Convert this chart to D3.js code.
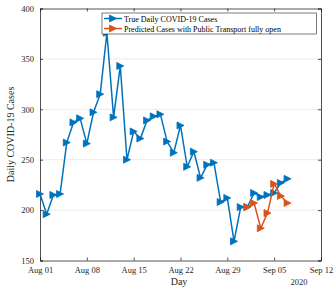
<!DOCTYPE html>
<html><head><meta charset="utf-8">
<script src="https://cdn.jsdelivr.net/npm/d3@7"></script>
<style>body{margin:0;background:#fff}svg{display:block}text{font-family:"Liberation Serif","Times New Roman",serif}</style>
</head><body><svg id="c" width="334" height="289"></svg>
<script>
const trueDates = ["2020-08-01","2020-08-02","2020-08-03","2020-08-04","2020-08-05","2020-08-06","2020-08-07","2020-08-08","2020-08-09","2020-08-10","2020-08-11","2020-08-12","2020-08-13","2020-08-14","2020-08-15","2020-08-16","2020-08-17","2020-08-18","2020-08-19","2020-08-20","2020-08-21","2020-08-22","2020-08-23","2020-08-24","2020-08-25","2020-08-26","2020-08-27","2020-08-28","2020-08-29","2020-08-30","2020-08-31","2020-09-01","2020-09-02","2020-09-03","2020-09-04","2020-09-05","2020-09-06","2020-09-07"];
const trueCases = [216,196,215,216,267,287,291,266,297,315,376,292,343,250,278,271,289,293,295,268,257,284,243,258,232,245,247,208,212,169,203,203,217,213,215,217,227,231];
const predDates = ["2020-09-01","2020-09-02","2020-09-03","2020-09-04","2020-09-05","2020-09-06","2020-09-07"];
const predCases = [203,207,182,197,226,214,207];
const xTickDates = ["2020-08-01","2020-08-08","2020-08-15","2020-08-22","2020-08-29","2020-09-05","2020-09-12"];
const xTickLabels = ["Aug 01","Aug 08","Aug 15","Aug 22","Aug 29","Sep 05","Sep 12"];
const yTicks = [150,200,250,300,350,400];
const legendLabels = ["True Daily COVID-19 Cases","Predicted Cases with Public Transport fully open"];
const colors = ["#0072BD","#D95319"];

const parse = d3.utcParse("%Y-%m-%d");
const svg = d3.select("#c");
const L=40,R=321,T=8.5,B=260.5;
const x = d3.scaleUtc().domain([parse("2020-08-01"),parse("2020-09-12")]).range([L,R]);
const y = d3.scaleLinear().domain([150,400]).range([B,T]);
const axisCol="#262626";

// grid
svg.append("g").selectAll("line").data(yTicks.slice(1,-1)).join("line")
 .attr("x1",L).attr("x2",R).attr("y1",d=>y(d)).attr("y2",d=>y(d))
 .attr("stroke","#ebebeb").attr("stroke-width",1);

const xt = xTickDates.map(parse);
const xAxis = d3.axisBottom(x).tickValues(xt).tickFormat(d=>xTickLabels[xt.findIndex(t=>+t===+d)]).tickSize(-3).tickPadding(6);
const gx = svg.append("g").attr("transform",`translate(0,${B})`).call(xAxis);
const gxt = svg.append("g").attr("transform",`translate(0,${T})`).call(d3.axisTop(x).tickValues(xt).tickSize(-3).tickFormat(""));
const yAxis = d3.axisLeft(y).tickValues(yTicks).tickSize(-3).tickPadding(6);
const gy = svg.append("g").attr("transform",`translate(${L},0)`).call(yAxis);
const gyr = svg.append("g").attr("transform",`translate(${R},0)`).call(d3.axisRight(y).tickValues(yTicks).tickSize(-3).tickFormat(""));
[gx,gxt,gy,gyr].forEach(g=>{
  g.select(".domain").attr("stroke",axisCol).attr("stroke-width",0.8);
  g.selectAll(".tick line").attr("stroke",axisCol).attr("stroke-width",0.8);
  g.selectAll(".tick text").attr("fill",axisCol).style("font-size","8.5px").style("font-family","Liberation Serif");
});

svg.append("text").attr("x",179).attr("y",285).attr("text-anchor","middle").attr("fill",axisCol).style("font-size","10px").text("Day");
svg.append("text").attr("x",299).attr("y",285).attr("text-anchor","middle").attr("fill",axisCol).style("font-size","8.5px").text("2020");
svg.append("text").attr("transform",`translate(14,${(T+B)/2}) rotate(-90)`).attr("text-anchor","middle").attr("fill",axisCol).style("font-size","10px").text("Daily COVID-19 Cases");

const line = d3.line().x(d=>x(d[0])).y(d=>y(d[1]));
const tri = "M-3.5,-3.5L3.5,0L-3.5,3.5Z";
function series(dates,vals,col){
  const data = dates.map((d,i)=>[parse(d),vals[i]]);
  svg.append("path").datum(data).attr("d",line).attr("fill","none").attr("stroke",col).attr("stroke-width",1.5);
  svg.append("g").selectAll("path").data(data).join("path")
    .attr("transform",d=>`translate(${x(d[0])},${y(d[1])})`).attr("d",tri)
    .attr("fill",col).attr("stroke",col).attr("stroke-width",0.8);
}
series(trueDates,trueCases,colors[0]);
series(predDates,predCases,colors[1]);

// legend
const lg = svg.append("g");
lg.append("rect").attr("x",102).attr("y",13).attr("width",214.5).attr("height",21).attr("fill","#fff").attr("stroke",axisCol).attr("stroke-width",0.6);
legendLabels.forEach((t,i)=>{
  const yy = 18.5+i*10;
  lg.append("line").attr("x1",104).attr("x2",122).attr("y1",yy).attr("y2",yy).attr("stroke",colors[i]).attr("stroke-width",1.5);
  lg.append("path").attr("d",tri).attr("transform",`translate(113,${yy})`).attr("fill",colors[i]).attr("stroke",colors[i]).attr("stroke-width",0.8);
  lg.append("text").attr("x",124).attr("y",yy+3).attr("fill","#000").style("font-size","8px").text(t);
});
</script></body></html>
